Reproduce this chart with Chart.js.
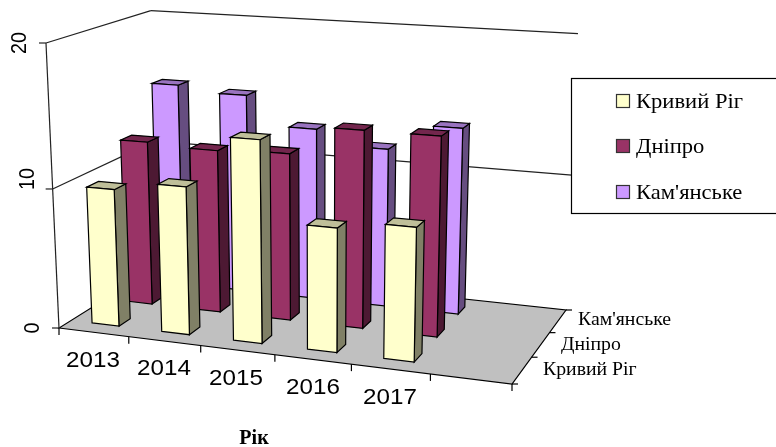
<!DOCTYPE html>
<html>
<head>
<meta charset="utf-8">
<style>html,body{margin:0;padding:0;background:#fff}canvas{display:block}</style>
<script src="https://cdn.jsdelivr.net/npm/chart.js@4"></script>
</head>
<body>
<canvas id="c" width="776" height="447"></canvas>
<script>
const years = ['2013', '2014', '2015', '2016', '2017', ''];
const cities = ['Кривий Ріг', 'Дніпро', "Кам'янське"];
const kryvyiRih = [9.85, 10.5, 14.15, 8.65, 9.2];
const dnipro = [12.05, 11.85, 12.05, 14.1, 14.1];
const kamianske = [15.2, 14.8, 12.7, 11.65, 13.55];
const valueTicks = [0, 10, 20];

const faceColors = [
  { front: '#FFFFCC', side: '#808066', top: '#BFBF99' },
  { front: '#993366', side: '#4D1933', top: '#73264D' },
  { front: '#CC99FF', side: '#664D80', top: '#9973BF' }
];

// Perspective box: floor corners plus the point where the verticals converge.
const floor = { a: [59, 328], b: [512, 384], c: [566, 310], d: [158, 266] };
const vanish = [319, 6022];
const topFrontLeftY = 43;
const barFill = 0.39;
const depthFill = 0.33;

function makeProjector() {
  const [x0, y0] = floor.a, [x1, y1] = floor.b, [x2, y2] = floor.c, [x3, y3] = floor.d;
  const dx1 = x1 - x2, dx2 = x3 - x2, sx = x0 - x1 + x2 - x3;
  const dy1 = y1 - y2, dy2 = y3 - y2, sy = y0 - y1 + y2 - y3;
  const det = dx1 * dy2 - dx2 * dy1;
  const g = (sx * dy2 - dx2 * sy) / det, h = (dx1 * sy - sx * dy1) / det;
  const a = x1 - x0 + g * x1, b = x3 - x0 + h * x3;
  const d = y1 - y0 + g * y1, e = y3 - y0 + h * y3;
  const s = (topFrontLeftY - y0) / (vanish[1] - topFrontLeftY);
  return (u, w, v) => {
    const k = g * u + h * w + 1 + s * v;
    return [(a * u + b * w + x0 + s * vanish[0] * v) / k,
            (d * u + e * w + y0 + s * vanish[1] * v) / k];
  };
}
const project = makeProjector();

function poly(ctx, pts, fill) {
  ctx.beginPath();
  pts.forEach((p, i) => i ? ctx.lineTo(p[0], p[1]) : ctx.moveTo(p[0], p[1]));
  ctx.closePath();
  if (fill) { ctx.fillStyle = fill; ctx.fill(); }
  ctx.stroke();
}
function line(ctx, p, q) {
  ctx.beginPath(); ctx.moveTo(p[0], p[1]); ctx.lineTo(q[0], q[1]); ctx.stroke();
}
function label(ctx, text, x, y, font, opts = {}) {
  ctx.save();
  ctx.translate(x, y);
  if (opts.rotate) ctx.rotate(opts.rotate);
  ctx.scale(opts.stretch || 1, 1);
  ctx.font = font;
  ctx.fillStyle = '#000';
  ctx.textAlign = opts.align || 'center';
  ctx.textBaseline = 'middle';
  ctx.fillText(text, 0, 0);
  ctx.restore();
}

const perspectivePlugin = {
  id: 'perspective',
  beforeDatasetDraw() { return false; },
  beforeDatasetsDraw(chart) {
    const { ctx, scales, chartArea } = chart;
    const xs = scales.x, ys = scales.y, zs = scales.depth;
    const uOf = px => (px - chartArea.left) / chartArea.width;
    const vOf = val => (ys.bottom - ys.getPixelForValue(val)) / (ys.bottom - ys.top);
    const uStep = uOf(xs.getPixelForValue(1)) - uOf(xs.getPixelForValue(0));
    const wStep = uOf(zs.getPixelForValue(1)) - uOf(zs.getPixelForValue(0));

    ctx.save();
    ctx.lineWidth = 1.2;
    ctx.strokeStyle = '#000';

    // Floor
    poly(ctx, [project(0, 0, 0), project(1, 0, 0), project(1, 1, 0), project(0, 1, 0)], '#C0C0C0');

    // Walls with gridlines and the value axis
    ctx.strokeStyle = '#222';
    ys.ticks.forEach(t => {
      const v = vOf(t.value);
      const p = project(0, 0, v);
      if (t.value > 0) {
        line(ctx, p, project(0, 1, v));
        line(ctx, project(0, 1, v), project(1, 1, v));
      }
      line(ctx, p, [p[0] - 7, p[1]]);
    });
    line(ctx, project(0, 0, 0), project(0, 0, 1));
    ctx.strokeStyle = '#000';

    // Category and depth ticks
    xs.getLabels().forEach((_, i) => {
      const p = project((i + 1) * uStep, 0, 0);
      line(ctx, p, [p[0], p[1] + 7]);
    });
    line(ctx, project(0, 0, 0), [59, 335]);
    zs.getLabels().forEach((_, j) => {
      const p = project(1, (j + 1) * wStep, 0);
      line(ctx, p, [p[0] + 6, p[1]]);
    });
    const corner = project(1, 0, 0);
    line(ctx, corner, [corner[0] + 6, corner[1]]);

    // Bars, back row first so nearer rows overlap them
    for (let ds = chart.data.datasets.length - 1; ds >= 0; ds--) {
      const meta = chart.getDatasetMeta(ds);
      const w = uOf(zs.getPixelForValue(ds));
      const w0 = w - wStep * depthFill / 2, w1 = w + wStep * depthFill / 2;
      const col = faceColors[ds];
      meta.data.forEach((_, i) => {
        const value = meta._parsed[i].y;
        if (value == null || isNaN(value)) return;
        const u = uOf(xs.getPixelForValue(i));
        const u0 = u - uStep * barFill / 2, u1 = u + uStep * barFill / 2;
        const v = vOf(value);
        poly(ctx, [project(u1, w0, 0), project(u1, w1, 0), project(u1, w1, v), project(u1, w0, v)], col.side);
        poly(ctx, [project(u0, w0, v), project(u1, w0, v), project(u1, w1, v), project(u0, w1, v)], col.top);
        poly(ctx, [project(u0, w0, 0), project(u1, w0, 0), project(u1, w0, v), project(u0, w0, v)], col.front);
      });
    }

    // Axis text
    const sans = 'px "Liberation Sans", Arial, sans-serif';
    const serif = 'px "Liberation Serif", "Times New Roman", serif';
    [[33, 328], [28, 179], [20, 43]].forEach((pos, i) => {
      label(ctx, String(ys.ticks[i].value), pos[0], pos[1], '22' + sans, { rotate: -Math.PI / 2, stretch: 0.9 });
    });
    [[93, 361], [164, 369], [236, 379], [313, 388], [390, 398]].forEach((pos, i) => {
      label(ctx, xs.getLabels()[i], pos[0], pos[1], '22' + sans, { stretch: 1.1 });
    });
    [[543, 370], [561, 345], [578, 320]].forEach((pos, i) => {
      label(ctx, zs.getLabels()[i], pos[0], pos[1], '19' + serif, { align: 'left', stretch: 1.04 });
    });
    label(ctx, 'Рік', 254, 439, 'bold 20' + serif);

    // Legend panel
    ctx.strokeStyle = '#000';
    ctx.strokeRect(571.5, 78.5, 210, 135);
    [101, 146, 192].forEach((y, i) => {
      ctx.strokeStyle = '#333';
      ctx.fillStyle = faceColors[i].front;
      ctx.fillRect(616.5, y - 6.5, 13, 13);
      ctx.strokeRect(616.5, y - 6.5, 13, 13);
      label(ctx, chart.data.datasets[i].label, 636, y + 1, '21.5' + serif, { align: 'left', stretch: 1.05 });
    });
    ctx.restore();
  }
};

new Chart(document.getElementById('c'), {
  type: 'bar',
  data: {
    labels: years,
    datasets: [
      { label: cities[0], data: kryvyiRih, backgroundColor: faceColors[0].front },
      { label: cities[1], data: dnipro, backgroundColor: faceColors[1].front },
      { label: cities[2], data: kamianske, backgroundColor: faceColors[2].front }
    ]
  },
  options: {
    responsive: false,
    animation: false,
    layout: { padding: 0 },
    plugins: { legend: { display: false }, tooltip: { enabled: false } },
    scales: {
      x: { display: false, offset: true },
      y: { display: false, min: 0, max: 20, ticks: { stepSize: valueTicks[1] - valueTicks[0] } },
      depth: { type: 'category', axis: 'x', position: 'bottom', labels: cities, display: false, offset: true }
    }
  },
  plugins: [perspectivePlugin]
});
</script>
</body>
</html>
